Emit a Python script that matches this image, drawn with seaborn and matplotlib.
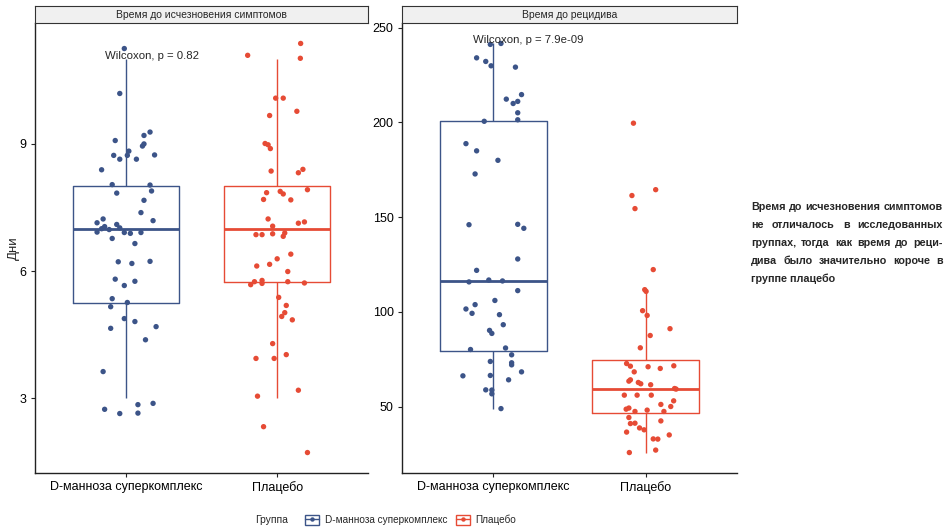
import numpy as np
import pandas as pd
import matplotlib
matplotlib.use("Agg")
import matplotlib.pyplot as plt
import seaborn as sns
from matplotlib.patches import Patch
from matplotlib.lines import Line2D
from matplotlib.legend_handler import HandlerTuple

# 1. DATA
groups = ["D-манноза суперкомплекс", "Плацебо"]
colors = ["#3C5488", "#E64B35"]
panel_titles = ["Время до исчезновения симптомов", "Время до рецидива"]
p_labels = ["Wilcoxon, p = 0.82", "Wilcoxon, p = 7.9e-09"]
y_ticks_sym = [3, 6, 9]
y_ticks_rel = [50, 100, 150, 200, 250]

# time to symptom resolution, days - dots as drawn (they carry vertical jitter)
sym_dman = [11.25, 10.19, 9.28, 9.20, 9.08, 9.00, 8.95, 8.83, 8.73, 8.73,
            8.64, 8.74, 8.64, 8.39, 8.04, 8.03, 7.84, 7.89, 7.67, 7.38,
            7.19, 7.23, 7.14, 7.05, 7.10, 7.02, 7.00, 6.98, 6.92, 6.91,
            6.89, 6.91, 6.77, 6.65, 6.22, 6.18, 6.23, 5.81, 5.66, 5.76,
            5.35, 5.16, 5.26, 4.88, 4.81, 4.65, 4.69, 4.38, 3.63, 2.88,
            2.85, 2.74, 2.64, 2.65]
sym_dman_dx = [-0.01, -0.04, 0.16, 0.12, -0.07, 0.12, 0.11, 0.02, 0.01, -0.08,
               -0.04, 0.19, 0.07, -0.16, -0.09, 0.16, -0.06, 0.17, 0.12, 0.10,
               0.18, -0.15, -0.19, -0.14, -0.06, -0.04, -0.16, -0.11, -0.19, -0.01,
               0.03, 0.10, -0.09, 0.06, -0.05, 0.04, 0.16, -0.07, -0.01, 0.06,
               -0.09, -0.10, 0.01, -0.01, 0.06, -0.10, 0.20, 0.13, -0.15, 0.18,
               0.08, -0.14, -0.04, 0.08]
sym_plac = [11.37, 11.09, 11.02, 10.08, 10.08, 9.67, 9.77, 9.01, 8.98, 8.89,
            8.36, 8.32, 8.40, 7.85, 7.69, 7.88, 7.82, 7.68, 7.92, 7.23,
            7.06, 7.13, 7.16, 6.86, 6.86, 6.88, 6.90, 6.82, 6.40, 6.29,
            6.12, 6.16, 5.99, 5.68, 5.75, 5.78, 5.71, 5.75, 5.72, 5.38,
            5.19, 5.02, 4.93, 4.85, 4.29, 3.94, 3.94, 4.03, 3.05, 3.19,
            2.33, 1.72]
sym_plac_dx = [0.155, -0.195, 0.153, -0.01, 0.04, -0.05, 0.13, -0.08, -0.06, -0.045,
               -0.04, 0.14, 0.17, -0.07, -0.09, 0.02, 0.04, 0.09, 0.20, -0.06,
               -0.03, 0.14, 0.18, -0.14, -0.10, -0.03, 0.05, 0.04, 0.09, 0.00,
               -0.135, -0.05, 0.07, -0.175, -0.15, -0.10, -0.10, 0.07, 0.18, 0.01,
               0.06, 0.05, 0.03, 0.10, -0.03, -0.14, -0.02, 0.06, -0.13, 0.14,
               -0.09, 0.20]

# time to relapse, days
rel_dman = [241.2, 241.7, 234.1, 232.2, 229.9, 229.2, 212.3, 210.0, 211.1, 214.7,
            205.1, 201.4, 200.6, 188.8, 185.0, 180.0, 172.8, 146.0, 146.2, 144.1,
            127.9, 121.9, 115.8, 116.8, 116.3, 111.2, 106.0, 103.8, 101.5, 99.2,
            98.5, 93.2, 90.2, 88.6, 80.1, 80.9, 77.3, 73.1, 72.0, 73.8,
            66.2, 66.4, 68.3, 64.1, 58.8, 58.7, 56.7, 48.9]
rel_dman_dx = [-0.02, 0.05, -0.11, -0.05, -0.015, 0.145, 0.085, 0.13, 0.16, 0.185,
               0.16, 0.16, -0.06, -0.18, -0.11, 0.03, -0.12, -0.16, 0.16, 0.20,
               0.16, -0.11, -0.16, -0.03, 0.06, 0.16, 0.01, -0.12, -0.18, -0.14,
               0.04, 0.065, -0.025, -0.01, -0.15, 0.08, 0.12, 0.12, 0.12, -0.02,
               -0.20, -0.02, 0.185, 0.10, -0.05, -0.01, -0.01, 0.05]
rel_plac = [199.6, 164.5, 161.4, 154.5, 122.3, 111.7, 110.8, 100.6, 98.1, 91.1,
            87.5, 81.0, 72.7, 71.3, 71.0, 70.1, 71.5, 68.3, 63.4, 64.1,
            62.7, 62.0, 61.5, 59.5, 59.2, 56.0, 56.0, 56.0, 53.0, 51.1,
            50.0, 48.6, 49.2, 47.4, 48.1, 47.4, 44.2, 41.0, 41.2, 42.4,
            38.7, 37.7, 36.5, 35.0, 32.9, 32.8, 25.7, 27.0]
rel_plac_dx = [-0.08, 0.066, -0.09, -0.07, 0.05, -0.006, 0.003, -0.02, 0.01, 0.16,
               0.03, -0.035, -0.125, -0.10, 0.016, 0.096, 0.185, -0.075, -0.11, -0.10,
               -0.048, -0.032, 0.033, 0.19, 0.20, -0.14, -0.056, 0.037, 0.184, 0.10,
               0.165, -0.128, -0.11, -0.07, 0.01, 0.12, -0.11, -0.10, -0.07, 0.10,
               -0.04, -0.01, -0.125, 0.155, 0.05, 0.08, -0.107, 0.066]

note_lines = ["Время до исчезновения симптомов",
              "не отличалось в исследованных",
              "группах, тогда как время до реци-",
              "дива было значительно короче в",
              "группе плацебо"]

# 2. STYLE
sns.set_style("ticks")
plt.rcParams["font.family"] = ["Liberation Sans", "DejaVu Sans"]

W, H = 950, 527
fig = plt.figure(figsize=(W / 100, H / 100), dpi=100)


def fx(px):
    return px / W


def fy(py):
    return 1 - py / H


def draw_panel(left_px, right_px, title, dots_a, dx_a, dots_b, dx_b,
               box_a, box_b, p_label, yticks, ylabel=None):
    ax = fig.add_axes([fx(left_px), fy(473), fx(right_px - left_px), (473 - 23) / H])

    box_df = pd.DataFrame({
        "group": [groups[0]] * len(box_a) + [groups[1]] * len(box_b),
        "days": list(box_a) + list(box_b),
    })
    sns.boxplot(data=box_df, x="group", y="days", hue="group", order=groups,
                hue_order=groups, palette=colors, fill=False, width=0.7,
                showfliers=False, showcaps=False, linewidth=1.0,
                medianprops=dict(linewidth=2.0), legend=False, ax=ax)

    dot_df = pd.DataFrame({
        "pos": [0 + d for d in dx_a] + [1 + d for d in dx_b],
        "days": list(dots_a) + list(dots_b),
        "group": [groups[0]] * len(dots_a) + [groups[1]] * len(dots_b),
    })
    sns.scatterplot(data=dot_df, x="pos", y="days", hue="group", hue_order=groups,
                    palette=colors, s=15, edgecolor="none", linewidth=0,
                    legend=False, zorder=3, ax=ax)

    lo = min(dot_df["days"])
    hi = max(dot_df["days"])
    pad = (hi - lo) * 0.05
    ax.set_ylim(lo - pad, hi + pad)
    ax.set_xlim(-0.6, 1.6)
    ax.set_xticks([0, 1])
    ax.set_xticklabels(groups)
    ax.set_yticks(yticks)
    ax.set_xlabel("")
    ax.set_ylabel(ylabel if ylabel else "", fontsize=9.5, labelpad=0)
    sns.despine(ax=ax)
    for s in ["left", "bottom"]:
        ax.spines[s].set_linewidth(1.0)
        ax.spines[s].set_color("#222222")
    ax.tick_params(axis="both", direction="out", length=3, width=0.8,
                   labelsize=9, colors="#222222", labelcolor="black", pad=3)

    # p-value from the test sits just above the highest recorded value
    top = max(max(box_a), max(box_b))
    ax.annotate(p_label, xy=(-0.135, top), xytext=(0, 3),
                textcoords="offset pixels", ha="left", va="center", fontsize=8.2)

    # facet strip
    strip = fig.add_axes([fx(left_px), fy(23), fx(right_px - left_px), 17 / H])
    strip.set_facecolor("#F0F0F0")
    strip.set_xticks([])
    strip.set_yticks([])
    for s in strip.spines.values():
        s.set_color("#333333")
        s.set_linewidth(0.8)
    strip.text(0.5, 0.5, title, ha="center", va="center", fontsize=7.5,
               transform=strip.transAxes)
    return ax


# boxes use the recorded whole days; the dots show the jittered copies
ax1 = draw_panel(35, 368, panel_titles[0], sym_dman, sym_dman_dx, sym_plac, sym_plac_dx,
                 np.round(sym_dman), np.round(sym_plac), p_labels[0], y_ticks_sym,
                 ylabel="Дни")
ax2 = draw_panel(402, 737, panel_titles[1], rel_dman, rel_dman_dx, rel_plac, rel_plac_dx,
                 rel_dman, rel_plac, p_labels[1], y_ticks_rel)

# 3. LEGEND
fig.text(fx(255), fy(520), "Группа", ha="left", va="center", fontsize=7.5)
handles = []
for c in colors:
    box = Patch(facecolor="white", edgecolor=c, linewidth=1.0)
    mid = Line2D([], [], color=c, linewidth=1.0, marker="o", markersize=3.2,
                 markeredgewidth=0)
    handles.append((box, mid))
fig.legend(handles, groups, loc="center left", bbox_to_anchor=(fx(300), fy(520)),
           ncol=2, frameon=False, fontsize=7.2, handlelength=1.4, handleheight=1.1,
           handletextpad=0.6, columnspacing=0.8, borderpad=0,
           handler_map={tuple: HandlerTuple(ndivide=1, pad=0)})

# 4. SIDE NOTE (justified, bold); font size chosen so the first line fills the column
renderer = fig.canvas.get_renderer()
note_left, note_right = 751, 943
probe = fig.text(0, 0, note_lines[0], fontsize=9.0, fontweight="bold")
note_fs = 9.0 * (note_right - note_left) / probe.get_window_extent(renderer).width
probe.remove()

for i, line in enumerate(note_lines):
    y = fy(210 + i * 18)   # baseline of each line
    if i == len(note_lines) - 1:
        fig.text(fx(note_left), y, line, ha="left", va="baseline",
                 fontsize=note_fs, fontweight="bold")
        continue
    words = line.split()
    items = [fig.text(0, y, w, ha="left", va="baseline", fontsize=note_fs,
                      fontweight="bold") for w in words]
    widths = [t.get_window_extent(renderer).width for t in items]
    gap = (note_right - note_left - sum(widths)) / (len(words) - 1)
    x = note_left
    for t, w in zip(items, widths):
        t.set_x(fx(x))
        x += w + gap

plt.savefig("out.png", dpi=100)
